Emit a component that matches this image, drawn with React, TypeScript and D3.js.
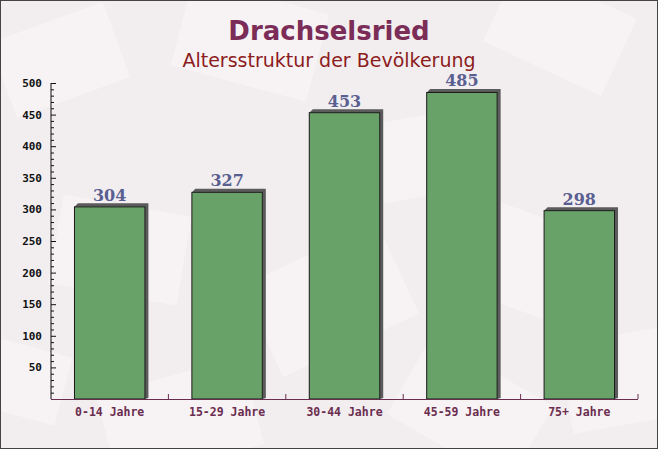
import React, { useRef, useEffect } from 'react';
import * as d3 from 'd3';

const categories = ['0-14 Jahre', '15-29 Jahre', '30-44 Jahre', '45-59 Jahre', '75+ Jahre'];
const values = [304, 327, 453, 485, 298];
const yTicks = [50, 100, 150, 200, 250, 300, 350, 400, 450, 500];

// faint envelope shapes in the background: [cx, cy, w, h, angle]
const decor: [number, number, number, number, number][] = [
    [60, 60, 120, 80, -20], [250, 40, 140, 90, 15], [560, 30, 130, 85, 25],
    [120, 250, 130, 90, 10], [330, 300, 150, 100, -25], [520, 260, 140, 95, 20],
    [180, 420, 150, 90, -15], [470, 410, 140, 90, 30], [620, 380, 110, 90, -10],
    [400, 160, 120, 80, -10], [20, 380, 90, 70, 15],
];

const App: React.FC = () => {
    const ref = useRef<SVGSVGElement | null>(null);

    useEffect(() => {
        document.body.style.margin = '0';
        if (!ref.current) return;
        const W = 658, H = 449;
        const svg = d3.select(ref.current);
        svg.selectAll('*').remove();
        svg.attr('width', W).attr('height', H);

        svg.append('rect').attr('width', W).attr('height', H).attr('fill', '#f2eef0');
        svg.append('g').selectAll('rect').data(decor).join('rect')
            .attr('x', d => -d[2] / 2).attr('y', d => -d[3] / 2)
            .attr('width', d => d[2]).attr('height', d => d[3])
            .attr('transform', d => `translate(${d[0]},${d[1]}) rotate(${d[4]})`)
            .attr('fill', '#fbf8f8').attr('opacity', 0.55);
        svg.append('rect').attr('x', 0.5).attr('y', 0.5).attr('width', W - 1).attr('height', H - 1)
            .attr('fill', 'none').attr('stroke', '#444');

        svg.append('text').attr('x', 329).attr('y', 40).attr('text-anchor', 'middle')
            .attr('font-family', 'DejaVu Sans').attr('font-weight', 'bold').attr('font-size', 26)
            .attr('fill', '#7b2c57').text('Drachselsried');
        svg.append('text').attr('x', 329).attr('y', 67).attr('text-anchor', 'middle')
            .attr('font-family', 'DejaVu Sans').attr('font-size', 19)
            .attr('fill', '#8c1c1c').text('Altersstruktur der Bevölkerung');

        const left = 51, right = 638, top = 83, bottom = 399;
        const x = d3.scaleBand<string>().domain(categories).range([left, right]).padding(0);
        const y = d3.scaleLinear().domain([0, 500]).range([bottom, top]);
        const bw = x.bandwidth() * 0.6;
        const off = 3.5;

        const bars = svg.append('g');
        categories.forEach((c, i) => {
            const x0 = (x(c) as number) + (x.bandwidth() - bw) / 2;
            const yv = y(values[i]);
            // shadow
            bars.append('polygon')
                .attr('points', `${x0},${yv} ${x0 + off},${yv - off} ${x0 + bw + off},${yv - off} ${x0 + bw + off},${bottom - 1} ${x0 + bw},${bottom} ${x0 + bw},${yv}`)
                .attr('fill', '#5b5b5b');
            bars.append('rect').attr('x', x0).attr('y', yv).attr('width', bw).attr('height', bottom - yv)
                .attr('fill', '#68a268').attr('stroke', '#1a1a1a').attr('stroke-width', 1);
            bars.append('text').attr('x', x0 + bw / 2).attr('y', yv - 6).attr('text-anchor', 'middle')
                .attr('font-family', 'DejaVu Serif').attr('font-weight', 'bold').attr('font-size', 16)
                .attr('fill', '#5a5f90').text(values[i]);
        });

        // y axis
        const ya = svg.append('g');
        ya.append('line').attr('x1', left).attr('x2', left).attr('y1', top).attr('y2', bottom)
            .attr('stroke', '#111');
        d3.range(0, 501, 10).forEach(v => {
            ya.append('line').attr('x1', left).attr('x2', left + (v % 50 === 0 ? 5 : 3))
                .attr('y1', y(v) + 0.5).attr('y2', y(v) + 0.5).attr('stroke', '#111');
        });
        ya.selectAll('text').data(yTicks).join('text')
            .attr('x', left - 9).attr('y', d => y(d) + 4).attr('text-anchor', 'end')
            .attr('font-family', 'DejaVu Sans Mono').attr('font-weight', 'bold').attr('font-size', 11)
            .attr('fill', '#111').text(d => d);

        // x axis
        const xa = svg.append('g');
        xa.append('line').attr('x1', left).attr('x2', right).attr('y1', bottom + 0.5).attr('y2', bottom + 0.5)
            .attr('stroke', '#6b2d4f');
        categories.forEach(c => {
            const xe = (x(c) as number) + x.bandwidth();
            xa.append('line').attr('x1', xe).attr('x2', xe).attr('y1', bottom).attr('y2', bottom - 5)
                .attr('stroke', '#6b2d4f');
        });
        xa.selectAll('text').data(categories).join('text')
            .attr('x', d => (x(d) as number) + x.bandwidth() / 2).attr('y', bottom + 17)
            .attr('text-anchor', 'middle')
            .attr('font-family', 'DejaVu Sans Mono').attr('font-weight', 'bold').attr('font-size', 11.5)
            .attr('fill', '#6b2d4f').text(d => d);
    }, []);

    return <svg ref={ref} style={{ display: 'block' }} />;
};

export default App;
